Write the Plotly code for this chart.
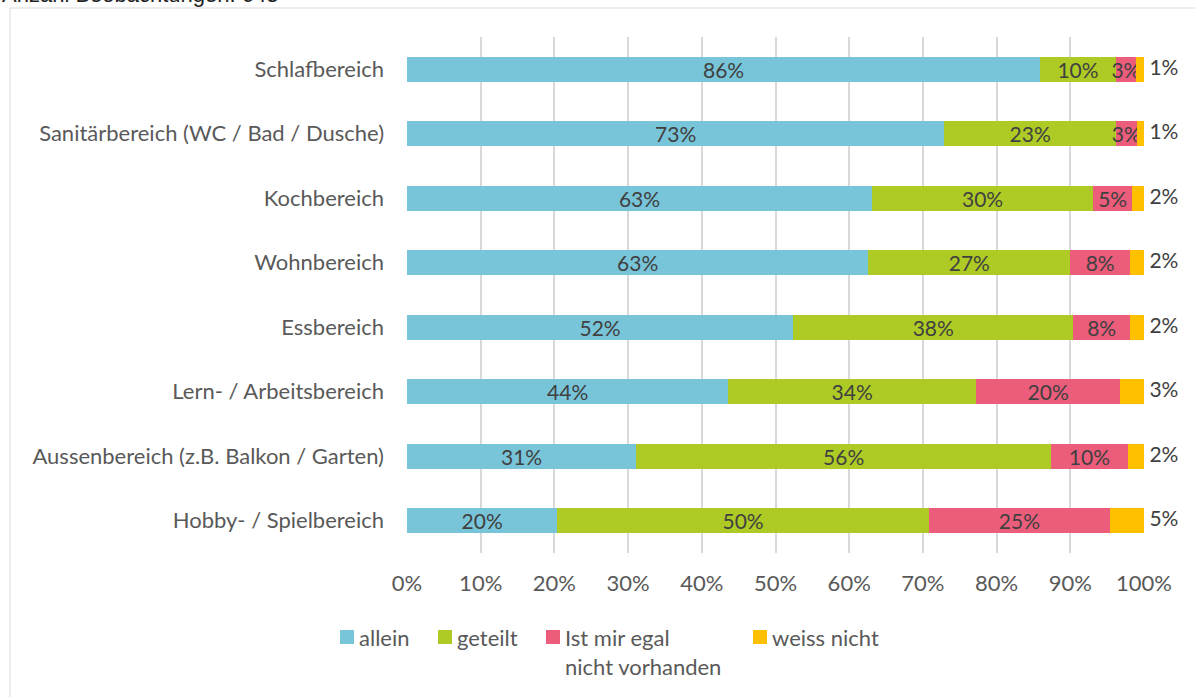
import plotly.graph_objects as go

bereiche = [
    "Schlafbereich",
    "Sanitärbereich (WC / Bad / Dusche)",
    "Kochbereich",
    "Wohnbereich",
    "Essbereich",
    "Lern- / Arbeitsbereich",
    "Aussenbereich (z.B. Balkon / Garten)",
    "Hobby- / Spielbereich",
]

allein = [85.9, 72.9, 63.1, 62.6, 52.4, 43.6, 31.1, 20.4]
geteilt = [10.3, 23.3, 30.0, 27.4, 38.0, 33.6, 56.3, 50.4]
egal_nicht_vorhanden = [2.7, 2.8, 5.3, 8.1, 7.7, 19.6, 10.4, 24.6]
weiss_nicht = [1.1, 1.0, 1.6, 1.9, 1.9, 3.2, 2.2, 4.6]

serien = [
    ("allein", allein, "#78C4D8"),
    ("geteilt", geteilt, "#AECB25"),
    ("Ist mir egal<br>nicht vorhanden", egal_nicht_vorhanden, "#EC5C7B"),
    ("weiss nicht", weiss_nicht, "#FFC000"),
]

x_ticks = list(range(0, 101, 10))
x_tick_labels = [f"{t}%" for t in x_ticks]

FONT = "Lato, Calibri, sans-serif"
W, H = 1195, 697
L, R, T, B = 407, 51, 37, 144
PW, PH = W - L - R, H - T - B


def px_x(p):
    return (p - L) / PW


def px_y(p):
    return 1 - (p - T) / PH


fig = go.Figure()

for name, values, color in serien[:3]:
    fig.add_trace(
        go.Bar(
            name=name,
            y=bereiche,
            x=values,
            orientation="h",
            marker=dict(color=color, line=dict(width=0)),
            width=0.39,
            text=[f"{v:.0f}%" for v in values],
            textposition="inside",
            insidetextanchor="middle",
            textangle=0,
            constraintext="none",
            textfont=dict(family=FONT, size=21, color="#404040"),
            showlegend=False,
        )
    )

# last segment: label sits outside, right of the 100% line
name, values, color = serien[3]
fig.add_trace(
    go.Bar(
        name=name,
        y=bereiche,
        x=values,
        orientation="h",
        marker=dict(color=color, line=dict(width=0)),
        width=0.39,
        showlegend=False,
    )
)
totals = [round(a + b + c + d, 6) for a, b, c, d in zip(allein, geteilt, egal_nicht_vorhanden, weiss_nicht)]
fig.add_trace(
    go.Scatter(
        y=bereiche,
        x=totals,
        mode="text",
        text=[f"\u00a0{v:.0f}%" for v in weiss_nicht],
        textposition="middle right",
        textfont=dict(family=FONT, size=21, color="#404040"),
        cliponaxis=False,
        showlegend=False,
        hoverinfo="skip",
    )
)

# legend drawn by hand to keep the Excel spacing
legend_pos = [340, 438, 546, 753]
shapes = [
    dict(
        type="rect", xref="paper", yref="paper",
        x0=px_x(10), x1=px_x(1260), y0=px_y(8), y1=px_y(760),
        line=dict(color="#d9d9d9", width=1), fillcolor="rgba(0,0,0,0)", layer="below",
    )
]
annotations = [
    dict(
        text="Anzahl Beobachtungen: 643", xref="paper", yref="paper",
        x=px_x(0), y=px_y(9), xanchor="left", yanchor="bottom", showarrow=False,
        font=dict(family="Liberation Sans, Arial", size=22, color="#222222"),
    )
]
for (name, _, color), lx in zip(serien, legend_pos):
    shapes.append(
        dict(
            type="rect", xref="paper", yref="paper",
            x0=px_x(lx), x1=px_x(lx + 14), y0=px_y(644), y1=px_y(630),
            fillcolor=color, line=dict(width=0),
        )
    )
    annotations.append(
        dict(
            text=name, xref="paper", yref="paper",
            x=px_x(lx + 17), y=px_y(622), xanchor="left", yanchor="top",
            align="left", showarrow=False,
            font=dict(family=FONT, size=22, color="#595959"),
        )
    )

fig.update_layout(
    barmode="stack",
    width=W,
    height=H,
    margin=dict(l=L, r=R, t=T, b=B, pad=0),
    paper_bgcolor="white",
    plot_bgcolor="white",
    font=dict(family=FONT, size=22, color="#595959"),
    shapes=shapes,
    annotations=annotations,
    xaxis=dict(
        range=[0, 100],
        tickvals=x_ticks,
        ticktext=x_tick_labels,
        showgrid=True,
        gridcolor="#d9d9d9",
        gridwidth=2,
        zeroline=False,
        showline=False,
        ticks="",
        ticklabelstandoff=15,
        tickfont=dict(family=FONT, size=22, color="#595959"),
    ),
    yaxis=dict(
        autorange="reversed",
        showgrid=False,
        zeroline=False,
        showline=False,
        ticks="",
        ticklabelstandoff=22,
        tickfont=dict(family=FONT, size=22, color="#595959"),
    ),
)

fig.write_html(
    "out.html",
    config={"displayModeBar": False},
    post_script="document.body.style.margin = '0';",
)
